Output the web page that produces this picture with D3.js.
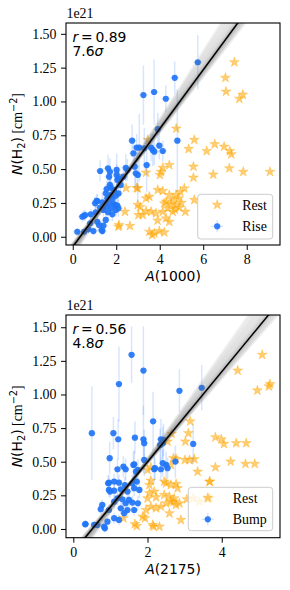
<!DOCTYPE html>
<html><head><meta charset="utf-8">
<script src="https://cdn.jsdelivr.net/npm/d3@7"></script>
<style>body{margin:0;background:#fff} svg{display:block}</style>
</head><body>
<svg id="c" width="290" height="590"></svg>
<script>
// ---------- DATA ----------
// Top panel: N(H2) [1e21 cm^-2] vs A(1000)
const riseTop = [ // [A(1000), N(H2), yerr]
[5.75,1.29,0.20],[4.69,1.175,0.12],[3.74,1.07,0.24],[3.25,1.047,0.22],[4.28,1.02,0.10],
[3.91,0.795,0.12],[2.73,0.71,0.12],[4.81,0.71,0.38],[3.98,0.673,0.10],[2.94,0.659,0.10],
[3.06,0.659,0.25],[3.29,0.654,0.15],[3.60,0.659,0.10],[3.68,0.642,0.12],[3.75,0.629,0.10],
[4.14,0.634,0.08],[2.79,0.617,0.10],[3.40,0.53,0.20],[2.99,0.457,0.20],[1.26,0.486,0.08],
[1.62,0.506,0.10],[1.71,0.48,0.10],[1.67,0.444,0.08],[2.02,0.494,0.12],[2.44,0.51,0.10],
[2.51,0.494,0.08],[2.33,0.444,0.08],[2.85,0.518,0.15],[2.90,0.469,0.10],[2.02,0.457,0.08],
[2.10,0.432,0.08],[2.05,0.42,0.06],[2.20,0.383,0.08],[1.71,0.383,0.08],[2.10,0.32,0.06],
[1.94,0.235,0.06],[2.10,0.21,0.06],[1.75,0.363,0.08],[1.56,0.353,0.06],[1.90,0.346,0.06],
[1.52,0.321,0.06],[1.75,0.309,0.08],[1.98,0.303,0.06],[1.59,0.284,0.06],[1.82,0.279,0.06],
[1.13,0.264,0.05],[1.36,0.255,0.06],[1.67,0.247,0.06],[1.90,0.240,0.06],[2.05,0.230,0.05],
[1.52,0.222,0.05],[1.26,0.215,0.05],[1.75,0.210,0.05],[1.41,0.198,0.05],[1.98,0.198,0.05],
[1.62,0.181,0.05],[1.06,0.181,0.05],[1.82,0.166,0.05],[0.52,0.155,0.04],[0.44,0.148,0.04],
[0.83,0.166,0.04],[1.52,0.124,0.04],[1.21,0.087,0.04],[0.95,0.042,0.03],[1.36,0.042,0.03],
[0.52,0.037,0.03],[0.21,0.037,0.03],[1.41,0.082,0.04],[1.13,0.111,0.04],[1.03,0.247,0.05],
[1.10,0.266,0.05],[0.80,0.099,0.04],[0.72,0.055,0.03],[1.33,0.05,0.03],[0.57,0.16,0.04]
];
const restTop = [ // [A(1000), N(H2)]
[7.43,1.29],[7.02,1.175],[7.05,1.073],[7.82,1.05],[7.66,1.02],[4.76,0.80],
[3.45,0.716],[5.59,0.716],[5.33,0.649],[6.16,0.634],[6.53,0.684],[6.96,0.666],[7.22,0.634],[7.29,0.61],
[4.44,0.53],[4.14,0.51],[4.06,0.48],[4.01,0.457],[5.55,0.518],[5.55,0.437],[3.37,0.474],[6.46,0.46],
[7.2,0.506],[7.84,0.48],[9.07,0.48],[5.13,0.358],[3.91,0.346],[4.14,0.338],[3.52,0.296],[3.37,0.284],
[4.44,0.309],[4.75,0.309],[4.6,0.272],[4.87,0.284],[4.21,0.247],[4.52,0.24],[4.75,0.235],[4.9,0.215],
[4.37,0.21],[5.18,0.185],[4.14,0.185],[3.83,0.173],[4.6,0.185],[3.6,0.185],[3.22,0.161],[3.37,0.19],
[4.29,0.136],[4.44,0.111],[5.59,0.272],[2.99,0.235],[2.99,0.358],[3.52,0.037],[3.75,0.025],[3.98,0.042],
[4.21,0.032],[3.65,0.013],[2.45,0.36],[2.94,0.36],[2.40,0.185],[3.1,0.22],[3.02,0.16],[2.1,0.074],
[2.63,0.08],[2.13,0.087],[2.10,0.45],[4.30,0.26],[4.70,0.20],[5.00,0.25],[3.90,0.12],[4.95,0.33]
];
// Bottom panel: N(H2) vs A(2175)
const bumpBottom = [ // [A(2175), N(H2), yerr]
[1.57,1.295,0.21],[1.89,1.178,0.33],[1.23,1.077,0.28],[3.46,1.05,0.17],[2.86,1.027,0.16],
[2.15,0.80,0.22],[0.50,0.712,0.35],[1.08,0.712,0.12],[1.21,0.667,0.15],[1.66,0.679,0.12],
[1.89,0.667,0.25],[2.36,0.667,0.15],[0.98,0.526,0.12],[1.19,0.444,0.08],[1.35,0.464,0.08],
[1.41,0.444,0.08],[1.64,0.481,0.1],[0.96,0.344,0.06],[1.10,0.352,0.06],[1.23,0.344,0.06],
[1.39,0.327,0.06],[1.59,0.34,0.06],[1.71,0.352,0.08],[0.96,0.29,0.05],[1.10,0.285,0.05],
[1.28,0.295,0.05],[1.46,0.278,0.05],[1.64,0.303,0.06],[1.19,0.228,0.05],[1.32,0.221,0.05],
[1.50,0.216,0.05],[1.10,0.203,0.05],[1.41,0.191,0.05],[1.59,0.196,0.05],[0.78,0.179,0.04],
[0.74,0.147,0.04],[0.96,0.141,0.04],[1.28,0.154,0.04],[1.46,0.141,0.04],[1.10,0.08,0.04],
[1.23,0.067,0.04],[0.92,0.054,0.03],[0.83,0.017,0.03],[0.56,0.03,0.03],[0.65,0.03,0.03],
[0.33,0.037,0.03],[1.64,0.141,0.04],[1.37,0.117,0.04],[2.41,0.638,0.12],[3.23,0.632,0.15],
[1.91,0.638,0.1],[1.91,0.513,0.12],[2.18,0.444,0.1],[2.41,0.489,0.1],[2.50,0.476,0.1],
[2.54,0.452,0.08],[2.75,0.501,0.12],[2.36,0.444,0.08],[1.69,0.426,0.08],[1.74,0.439,0.08],
[1.78,0.29,0.06],[1.74,0.191,0.05],[1.62,0.476,0.1],[2.20,0.452,0.08],[0.94,0.34,0.06],
[0.99,0.278,0.05],[0.32,0.035,0.03],[0.85,0.005,0.03],[2.43,0.662,0.12],[2.34,0.625,0.12]
];
const restBottom = [ // [A(2175), N(H2)]
[5.09,1.295],[4.43,1.178],[4.96,1.03],[5.27,1.06],[5.3,1.077],[3.15,0.80],
[3.1,0.712],[2.65,0.707],[3.83,0.682],[3.99,0.667],[4.06,0.632],[4.39,0.638],[4.66,0.638],[3.02,0.65],
[2.54,0.65],[4.24,0.501],[3.83,0.459],[4.64,0.484],[4.89,0.484],[3.68,0.352],[3.68,0.228],
[3.13,0.513],[3.26,0.519],[2.77,0.519],[3.35,0.426],[2.63,0.476],[2.09,0.459],[2.0,0.439],
[3.67,0.352],[2.09,0.359],[2.05,0.327],[2.45,0.352],[2.5,0.34],[2.63,0.327],[2.77,0.335],[2.81,0.303],
[2.05,0.266],[2.18,0.278],[2.0,0.228],[2.23,0.236],[2.45,0.253],[2.59,0.24],[2.72,0.228],[2.63,0.203],
[2.5,0.191],[2.77,0.179],[2.86,0.191],[2.36,0.166],[2.23,0.154],[2.09,0.166],[1.96,0.141],[1.87,0.092],
[2.14,0.03],[2.32,0.017],[2.59,0.117],[2.9,0.067],[3.62,0.221],[1.35,0.08],[1.66,0.037],[1.71,0.022],
[2.16,0.017],[1.93,0.08],[2.7,0.203],[3.06,0.221],[3.23,0.228],[3.4,0.203],[3.64,0.228],[3.01,0.513],[2.7,0.526]
];
const riseXErr = 0.2, bumpXErr = 0.1;
// Linear fits [slope, intercept] and bootstrap slopes (around a pivot point)
const fitTop = [0.218, -0.074], pivotTop = [2.0, 0.362];
const bootTop = [0.206,0.209,0.211,0.213,0.215,0.216,0.217,0.218,0.219,0.220,0.222,0.224,0.227,0.231,0.235,0.240,0.245,0.251];
const fitBottom = [0.335, -0.171], pivotBottom = [1.6, 0.365];
const bootBottom = [0.315,0.320,0.324,0.328,0.331,0.333,0.335,0.337,0.340,0.343,0.347,0.352,0.358,0.365,0.372,0.380,0.390];
const statsTop = ["0.89", "7.6"], statsBottom = ["0.56", "4.8"];
const yTicks = [0, 0.25, 0.5, 0.75, 1.0, 1.25, 1.5];
const xTicksTop = [0, 2, 4, 6, 8], xTicksBottom = [0, 2, 4];

// ---------- DRAW ----------
const svg = d3.select("#c");
const BLUE = "#2275f7", ORANGE = "#ffa500";
const SERIF = "'Liberation Serif','Times New Roman',serif";
const SANS = "'DejaVu Sans',sans-serif";
const FS = 13.9;

function panel(cfg) {
  const {left, right, top, bottom, xDom, yDom, xTicks, rest, blue, xerr, fit, pivot, boot, stats, xLabelNum, blueName} = cfg;
  const x = d3.scaleLinear().domain(xDom).range([left, right]);
  const y = d3.scaleLinear().domain(yDom).range([bottom, top]);
  const g = svg.append("g");
  const clipId = "clip" + top;
  svg.append("clipPath").attr("id", clipId).append("rect")
    .attr("x", left).attr("y", top).attr("width", right - left).attr("height", bottom - top);
  const plot = g.append("g").attr("clip-path", `url(#${clipId})`);

  // stars
  const star = d3.symbol().type(d3.symbolStar).size(30);
  plot.append("g").selectAll("path").data(rest).join("path")
    .attr("d", star)
    .attr("transform", d => `translate(${x(d[0])},${y(d[1])})`)
    .attr("fill", ORANGE).attr("fill-opacity", 0.55)
    .attr("stroke", ORANGE).attr("stroke-opacity", 0.55).attr("stroke-width", 0.6);

  // error bars
  const eb = plot.append("g").attr("stroke", BLUE).attr("stroke-opacity", 0.18).attr("stroke-width", 1.5);
  eb.selectAll("line.v").data(blue).join("line").attr("class", "v")
    .attr("x1", d => x(d[0])).attr("x2", d => x(d[0]))
    .attr("y1", d => y(d[1] - d[2])).attr("y2", d => y(d[1] + d[2]));
  eb.selectAll("line.h").data(blue).join("line").attr("class", "h")
    .attr("x1", d => x(d[0] - xerr)).attr("x2", d => x(d[0] + xerr))
    .attr("y1", d => y(d[1])).attr("y2", d => y(d[1]));
  plot.append("g").selectAll("circle").data(blue).join("circle")
    .attr("cx", d => x(d[0])).attr("cy", d => y(d[1])).attr("r", 3.1)
    .attr("fill", BLUE).attr("fill-opacity", 0.92);

  // bootstrap band
  const xs = [xDom[0], xDom[1]];
  plot.append("g").selectAll("line").data(boot).join("line")
    .attr("x1", x(xs[0])).attr("x2", x(xs[1]))
    .attr("y1", s => y(pivot[1] + s * (xs[0] - pivot[0])))
    .attr("y2", s => y(pivot[1] + s * (xs[1] - pivot[0])))
    .attr("stroke", "#666").attr("stroke-opacity", 0.1).attr("stroke-width", 3);
  plot.append("line")
    .attr("x1", x(xs[0])).attr("x2", x(xs[1]))
    .attr("y1", y(fit[0] * xs[0] + fit[1])).attr("y2", y(fit[0] * xs[1] + fit[1]))
    .attr("stroke", "#000").attr("stroke-width", 1.5);

  // axes
  const ya = d3.axisLeft(y).tickValues(yTicks).tickFormat(d3.format(".2f")).tickSize(5).tickPadding(4.5);
  const xa = d3.axisBottom(x).tickValues(xTicks).tickFormat(d3.format("d")).tickSize(5).tickPadding(4.5);
  const gy = g.append("g").attr("transform", `translate(${left},0)`).call(ya);
  const gx = g.append("g").attr("transform", `translate(0,${bottom})`).call(xa);
  [gx, gy].forEach(a => {
    a.select(".domain").remove();
    a.selectAll("text").attr("font-family", SERIF).attr("font-size", FS).attr("fill", "#000");
    a.selectAll("line").attr("stroke", "#000").attr("stroke-width", 1);
  });
  g.append("rect").attr("x", left).attr("y", top).attr("width", right - left).attr("height", bottom - top)
    .attr("fill", "none").attr("stroke", "#000").attr("stroke-width", 1.1);

  // offset text
  g.append("text").attr("x", left + 0.5).attr("y", top - 5).attr("font-family", SERIF)
    .attr("font-size", FS).text("1e21");

  // stats
  const t1 = g.append("text").attr("x", left + 6.5).attr("y", top + 18.5).attr("font-family", SANS).attr("font-size", FS);
  t1.append("tspan").attr("font-style", "italic").text("r");
  t1.append("tspan").text("\u2009=\u2009" + stats[0]);
  const t2 = g.append("text").attr("x", left + 6.5).attr("y", top + 33).attr("font-family", SANS).attr("font-size", FS);
  t2.append("tspan").text(stats[1]);
  t2.append("tspan").attr("font-style", "italic").text("σ");

  // x label
  const xl = g.append("text").attr("x", (left + right) / 2).attr("y", bottom + 36).attr("text-anchor", "middle")
    .attr("font-family", SANS).attr("font-size", FS);
  xl.append("tspan").attr("font-style", "italic").text("A");
  xl.append("tspan").text("(" + xLabelNum + ")");

  // y label
  const cy = (top + bottom) / 2;
  const yl = g.append("text").attr("transform", `translate(22,${cy}) rotate(-90)`).attr("text-anchor", "middle")
    .attr("font-size", FS);
  yl.append("tspan").attr("font-family", SANS).attr("font-style", "italic").text("N");
  yl.append("tspan").attr("font-family", SANS).text("(H");
  yl.append("tspan").attr("font-family", SANS).attr("font-size", FS * 0.7).attr("dy", 3).text("2");
  yl.append("tspan").attr("font-family", SANS).attr("dy", -3).text(")");
  yl.append("tspan").attr("font-family", SERIF).text(" [cm");
  yl.append("tspan").attr("font-family", SANS).attr("font-size", FS * 0.7).attr("dy", -5).text("−2");
  yl.append("tspan").attr("font-family", SERIF).attr("dy", 5).text("]");

  // legend
  const L = cfg.legend;
  const lg = g.append("g");
  lg.append("rect").attr("x", L.x).attr("y", L.y).attr("width", L.w).attr("height", L.h).attr("rx", 3)
    .attr("fill", "#fff").attr("fill-opacity", 0.8).attr("stroke", "#ccc").attr("stroke-width", 1);
  const mx = L.x + 19.5;
  lg.append("path").attr("d", d3.symbol().type(d3.symbolStar).size(30)())
    .attr("transform", `translate(${mx},${L.y + 10.5})`)
    .attr("fill", ORANGE).attr("fill-opacity", 0.55).attr("stroke", ORANGE).attr("stroke-opacity", 0.55).attr("stroke-width", 0.6);
  const by = L.y + 32;
  lg.append("line").attr("x1", mx - 6).attr("x2", mx + 6).attr("y1", by).attr("y2", by)
    .attr("stroke", BLUE).attr("stroke-opacity", 0.18).attr("stroke-width", 1.5);
  lg.append("line").attr("x1", mx).attr("x2", mx).attr("y1", by - 6).attr("y2", by + 6)
    .attr("stroke", BLUE).attr("stroke-opacity", 0.18).attr("stroke-width", 1.5);
  lg.append("circle").attr("cx", mx).attr("cy", by).attr("r", 3.1).attr("fill", BLUE).attr("fill-opacity", 0.92);
  lg.append("text").attr("x", L.x + 44.5).attr("y", L.y + 15.5).attr("font-family", SERIF).attr("font-size", FS).text("Rest");
  lg.append("text").attr("x", L.x + 44.5).attr("y", L.y + 36.5).attr("font-family", SERIF).attr("font-size", FS).text(blueName);
}

panel({left: 66, right: 280, top: 23, bottom: 245, xDom: [-0.31, 9.53], yDom: [-0.061, 1.58],
  xTicks: xTicksTop, rest: restTop, blue: riseTop, xerr: riseXErr, fit: fitTop, pivot: pivotTop, boot: bootTop,
  stats: statsTop, xLabelNum: "1000", blueName: "Rise", legend: {x: 197.7, y: 194.3, w: 75, h: 44.7}});
panel({left: 66, right: 280, top: 315, bottom: 537.7, xDom: [-0.197, 5.57], yDom: [-0.065, 1.591],
  xTicks: xTicksBottom, rest: restBottom, blue: bumpBottom, xerr: bumpXErr, fit: fitBottom, pivot: pivotBottom, boot: bootBottom,
  stats: statsBottom, xLabelNum: "2175", blueName: "Bump", legend: {x: 188.3, y: 487.3, w: 84.4, h: 43.4}});
</script>
</body></html>
